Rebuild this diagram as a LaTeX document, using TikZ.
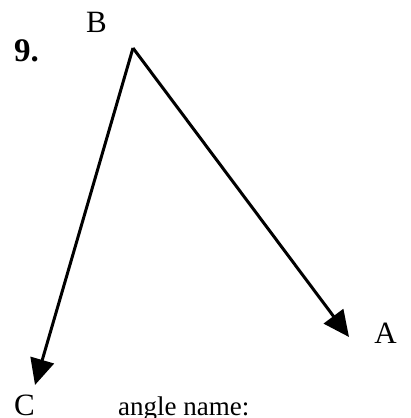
\documentclass[tikz,border=0pt]{standalone}
\usepackage{fontspec}
\setmainfont{Liberation Serif}
\usetikzlibrary{arrows.meta}
\begin{document}
\begin{tikzpicture}[x=1pt,y=-1pt,
  ray/.style={line width=3pt,-{Triangle[length=26pt,width=24pt]}},
  lbl/.style={anchor=base,inner sep=0pt,font=\fontsize{31}{35}\selectfont}]
\useasboundingbox (0,0) rectangle (410,418);
\coordinate (vB) at (133,48);
\coordinate (tA) at (349,337);
\coordinate (tC) at (35,385);
\draw[ray] (vB) -- (tA);
\draw[ray] (vB) -- (tC);
\node[lbl] (nB) at (96.5,32) {B};
\node[lbl] (nA) at (385.5,343) {A};
\node[lbl] (nC) at (24.5,415) {C};
\node[anchor=base west,inner sep=0pt,font=\fontsize{33}{37}\selectfont\bfseries] (num) at (14,61) {9.};
\node[anchor=base west,inner sep=0pt,font=\fontsize{27}{32}\selectfont] (ang) at (118,415) {angle name:};
\end{tikzpicture}
\end{document}
